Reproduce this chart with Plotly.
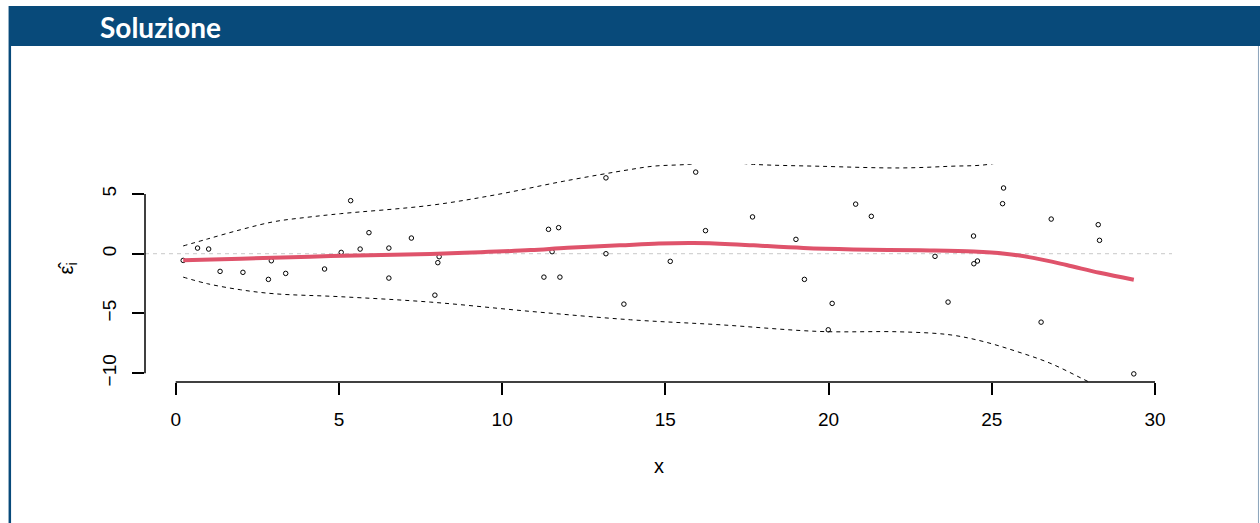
import plotly.graph_objects as go

# ---- data ----
x_pts = [0.23, 0.67, 1.01, 1.36, 2.06, 2.84, 2.93, 3.37, 4.56, 5.07, 5.36, 5.65, 5.92,
         6.53, 6.53, 7.22, 7.94, 8.03, 8.07, 11.28, 11.42, 11.53, 11.73, 11.77, 13.18,
         13.18, 13.73, 15.15, 15.93, 16.23, 17.67, 19.0, 19.26, 19.99, 20.11, 20.83,
         21.31, 23.26, 23.66, 24.44, 24.45, 24.56, 25.33, 25.36, 26.51, 26.82, 28.26,
         28.3, 29.35]
res_pts = [-0.56, 0.47, 0.39, -1.48, -1.56, -2.15, -0.59, -1.65, -1.28, 0.11, 4.44, 0.39,
           1.76, 0.47, -2.04, 1.31, -3.47, -0.75, -0.25, -1.96, 2.04, 0.17, 2.18, -1.96,
           6.35, 0.0, -4.22, -0.64, 6.83, 1.93, 3.08, 1.2, -2.15, -6.37, -4.16, 4.15,
           3.13, -0.22, -4.05, 1.48, -0.84, -0.61, 4.19, 5.5, -5.73, 2.9, 2.43, 1.12,
           -10.06]

x_smooth = [0.23, 2.0, 4.74, 7.8, 9.34, 10.87, 12.0, 13.6, 14.8, 15.87, 17.0, 17.7,
            19.23, 20.76, 22.8, 24.44, 25.4, 26.27, 27.29, 28.3, 29.35]
y_smooth = [-0.55, -0.42, -0.2, -0.02, 0.12, 0.3, 0.5, 0.7, 0.85, 0.89, 0.8, 0.7,
            0.48, 0.36, 0.28, 0.18, 0.0, -0.35, -0.95, -1.6, -2.18]

x_upper = [0.23, 0.97, 1.99, 3.01, 4.03, 5.05, 7.8, 9.84, 11.89, 13.93, 14.64, 15.7,
           16.6, 17.7, 19.74, 22.19, 23.72, 24.95, 26.5, 28.0, 29.35]
y_upper = [0.65, 1.23, 2.01, 2.68, 3.05, 3.35, 4.05, 4.95, 6.07, 7.05, 7.33, 7.48,
           7.75, 7.48, 7.32, 7.18, 7.32, 7.5, 8.6, 10.0, 11.5]

x_lower = [0.23, 0.97, 1.99, 3.01, 5.05, 7.8, 10.87, 13.93, 16.68, 19.74, 22.19, 23.72,
           24.74, 25.76, 26.78, 27.8, 28.6, 29.35]
y_lower = [-1.96, -2.51, -3.02, -3.35, -3.6, -4.05, -4.83, -5.53, -5.95, -6.51, -6.54,
           -6.79, -7.35, -8.18, -9.16, -10.5, -11.6, -12.7]

x_ticks = [0, 5, 10, 15, 20, 25, 30]
y_ticks = [-10, -5, 0, 5]
title_text = "Soluzione"
x_label = "x"
y_label = "ε̂<sub>i</sub>"

# ---- layout geometry (pixels) ----
W, H = 1260, 523
L, R, T, B = 144.5, 1172, 164, 382
BLUE = "rgb(8,74,122)"
FONT = "Liberation Sans, Arial, sans-serif"


def px(X):
    return (X - L) / (R - L)


def py(Y):
    return (B - Y) / (B - T)


fig = go.Figure()

fig.add_trace(go.Scatter(x=[-0.94, 30.52], y=[0, 0], mode="lines",
                         line=dict(color="#c8c8c8", width=1, dash="4px,4px"),
                         hoverinfo="skip"))
fig.add_trace(go.Scatter(x=x_upper, y=y_upper, mode="lines",
                         line=dict(color="black", width=1, dash="4px,4px", shape="spline")))
fig.add_trace(go.Scatter(x=x_lower, y=y_lower, mode="lines",
                         line=dict(color="black", width=1, dash="4px,4px", shape="spline")))
fig.add_trace(go.Scatter(x=x_pts, y=res_pts, mode="markers",
                         marker=dict(symbol="circle-open", size=4.5, color="black",
                                     line=dict(width=1, color="black")),
                         cliponaxis=False))
fig.add_trace(go.Scatter(x=x_smooth, y=y_smooth, mode="lines",
                         line=dict(color="#DF536B", width=4, shape="spline")))

shapes = [
    # title bar
    dict(type="rect", xref="paper", yref="paper", x0=px(8), x1=px(1262), y0=py(46), y1=py(6),
         fillcolor=BLUE, line=dict(width=0), layer="below"),
    # left frame border
    dict(type="rect", xref="paper", yref="paper", x0=px(8), x1=px(10.5), y0=py(524), y1=py(46),
         fillcolor=BLUE, line=dict(width=0), layer="below"),
    # right frame border
    dict(type="line", xref="paper", yref="paper", x0=px(1258.5), x1=px(1258.5), y0=py(524), y1=py(46),
         line=dict(color="#8aa3bb", width=1), layer="below"),
    # R-style axis lines spanning first to last tick
    dict(type="line", xref="x", yref="paper", x0=x_ticks[0], x1=x_ticks[-1], y0=0, y1=0,
         line=dict(color="black", width=1.5)),
    dict(type="line", xref="paper", yref="y", x0=0, x1=0, y0=y_ticks[0], y1=y_ticks[-1],
         line=dict(color="black", width=1.5)),
]

annotations = [
    dict(text="<b>" + title_text + "</b>", xref="paper", yref="paper", x=px(97), y=py(27),
         xanchor="left", yanchor="middle", showarrow=False,
         font=dict(family="Lato, Open Sans, sans-serif", size=28, color="white")),
    dict(text=x_label, xref="paper", yref="paper", x=px(659), y=py(466),
         xanchor="center", yanchor="middle", showarrow=False,
         font=dict(family=FONT, size=20, color="black")),
    dict(text=y_label, xref="paper", yref="paper", x=px(66), y=py(268),
         xanchor="center", yanchor="middle", showarrow=False, textangle=-90,
         font=dict(family=FONT, size=20, color="black")),
]

fig.update_layout(
    width=W, height=H, autosize=False,
    margin=dict(l=L, r=W - R, t=T, b=H - B, pad=0),
    paper_bgcolor="white", plot_bgcolor="white",
    showlegend=False,
    shapes=shapes, annotations=annotations,
    xaxis=dict(range=[-0.94, 30.52], tickvals=x_ticks, ticktext=[str(v) for v in x_ticks],
               ticks="outside", ticklen=12, tickwidth=1.5, tickcolor="black",
               showgrid=False, zeroline=False, showline=False, ticklabelstandoff=8,
               tickfont=dict(family=FONT, size=19, color="black")),
    yaxis=dict(range=[-10.74, 7.51], tickvals=y_ticks,
               ticktext=[("−" + str(-v)) if v < 0 else str(v) for v in y_ticks],
               ticks="outside", ticklen=12, tickwidth=1.5, tickcolor="black", tickangle=-90,
               showgrid=False, zeroline=False, showline=False, ticklabelstandoff=8,
               tickfont=dict(family=FONT, size=19, color="black")),
)

fig.write_html("out.html", config={"displayModeBar": False},
               post_script="document.body.style.margin='0';document.body.style.overflow='hidden';")
